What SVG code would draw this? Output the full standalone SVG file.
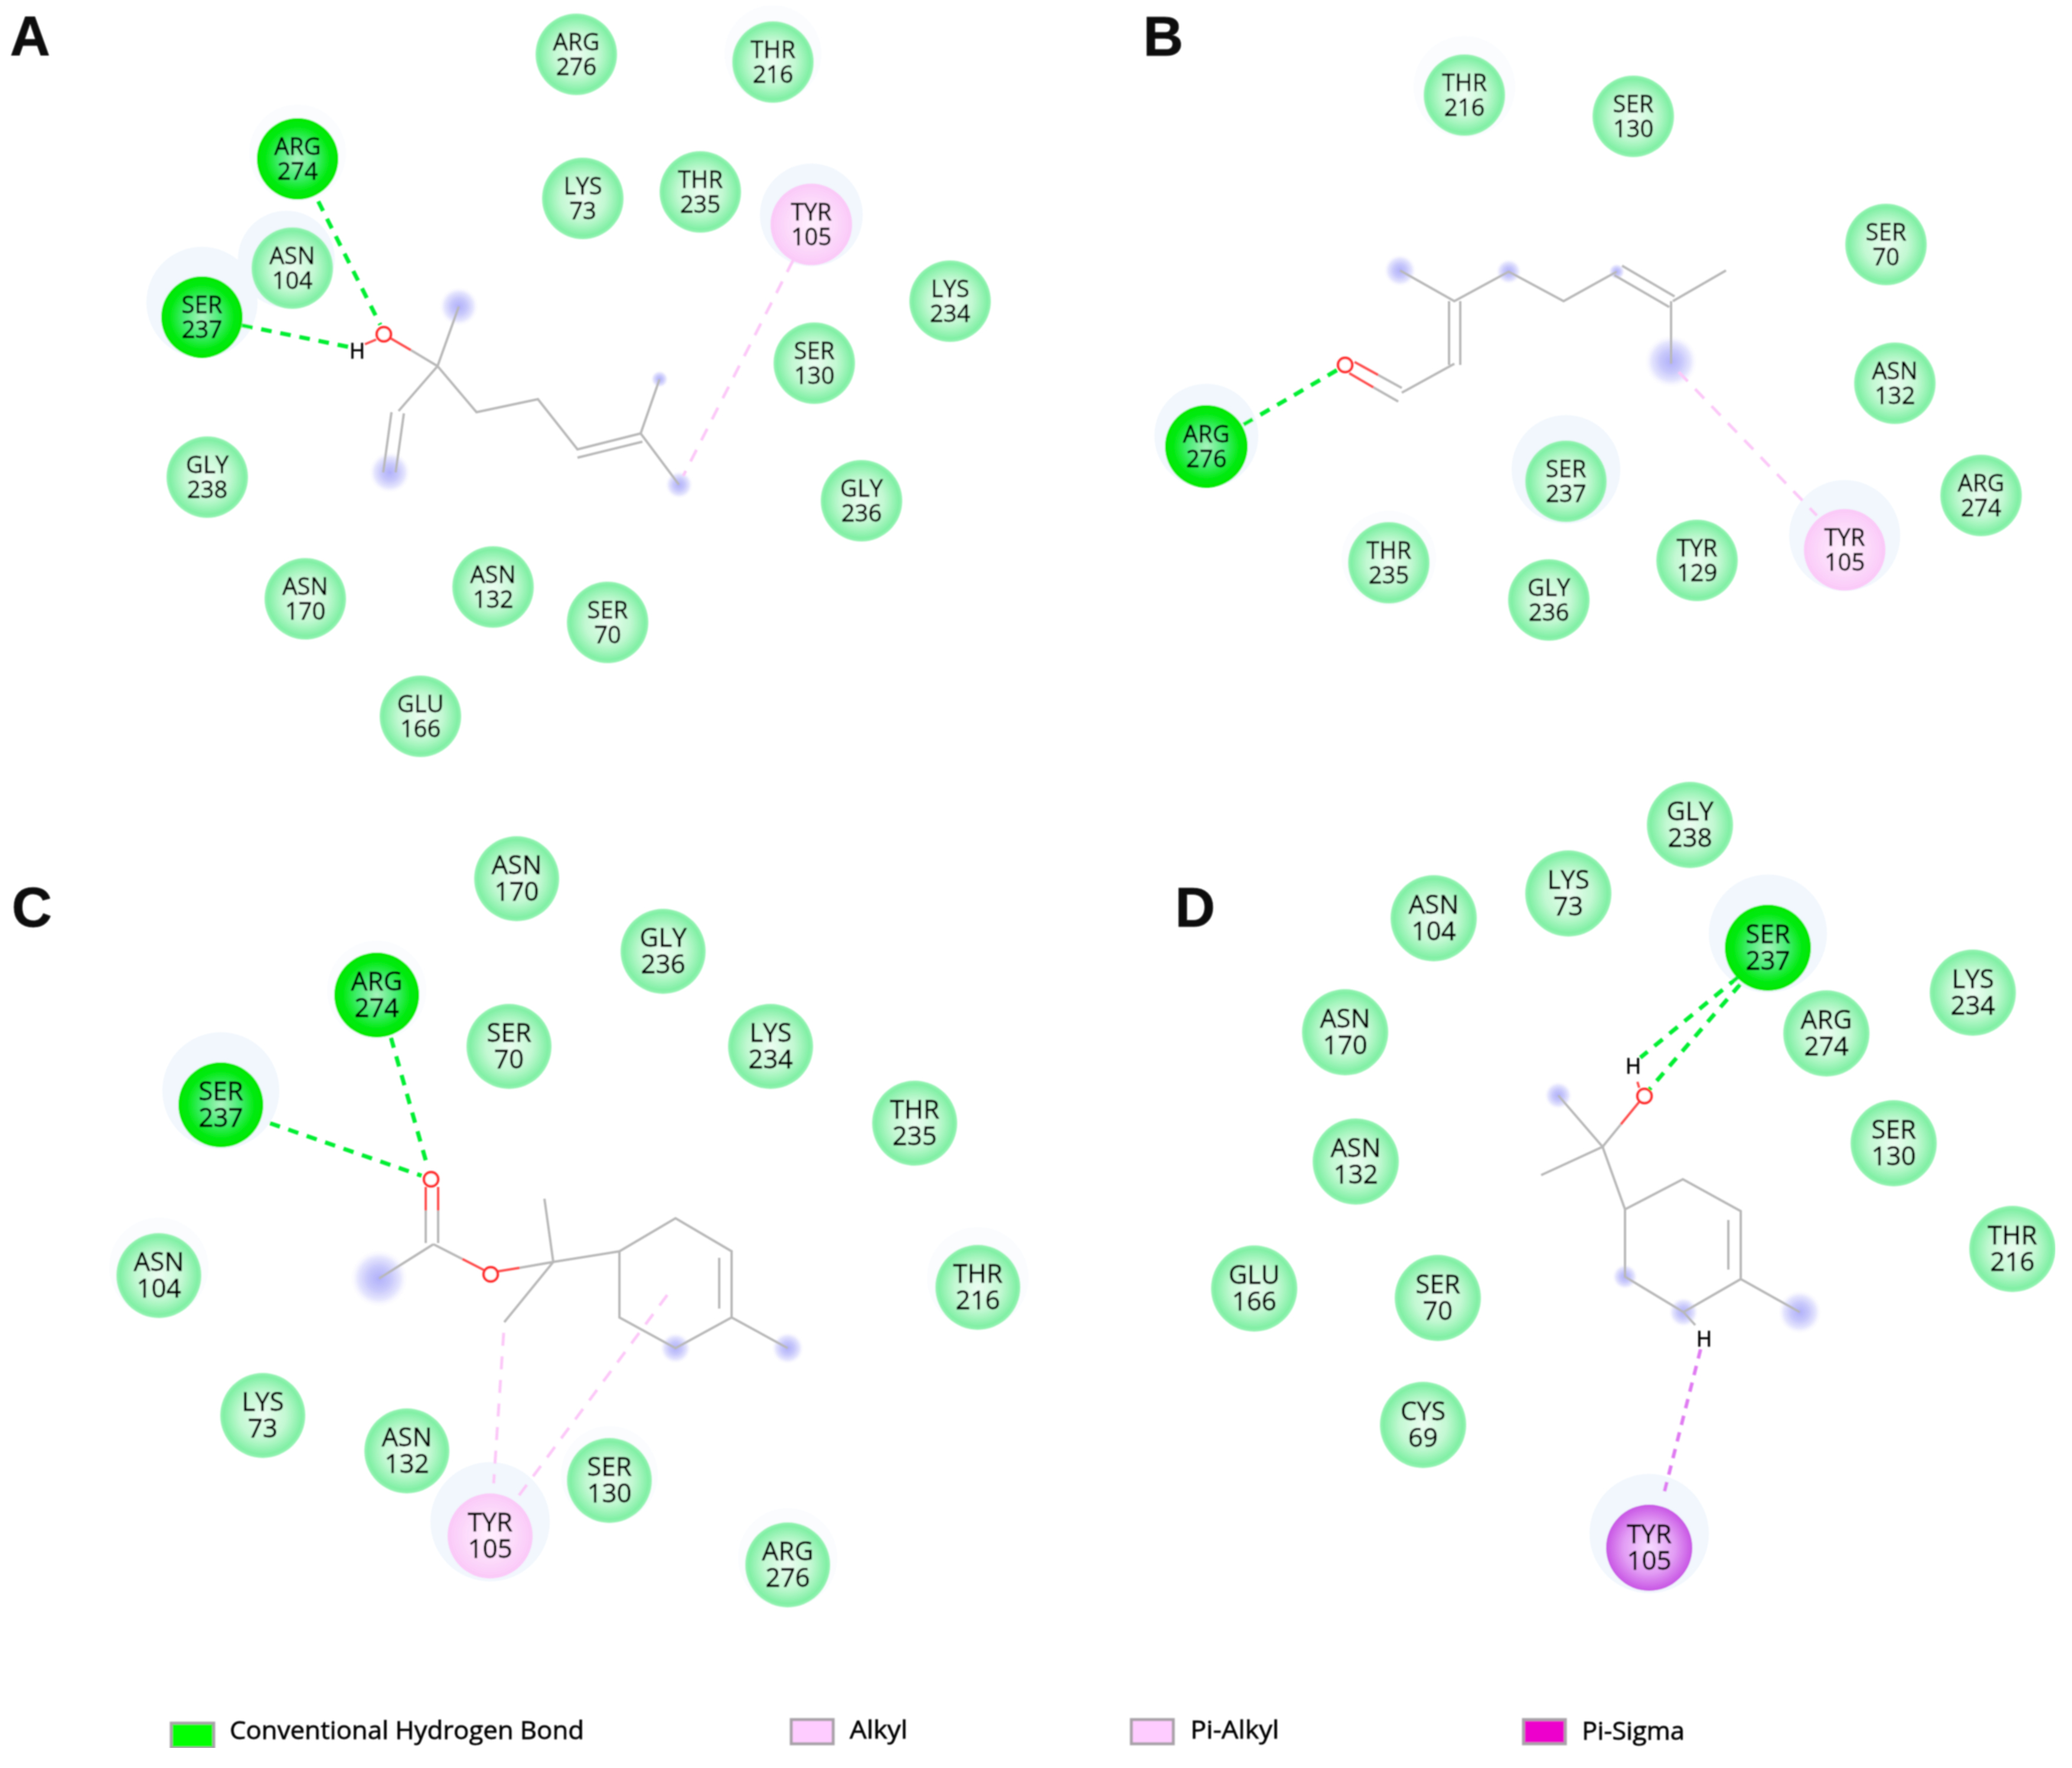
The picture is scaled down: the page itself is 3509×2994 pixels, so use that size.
<svg xmlns="http://www.w3.org/2000/svg" width="3509" height="2994" viewBox="0 0 3509 2994">
<style>
text{font-family:"Open Sans","Liberation Sans",sans-serif;fill:#000;stroke:#000;stroke-width:.8px}
.t{font-size:40px;text-anchor:middle}
.u{font-size:44px;text-anchor:middle}
.p{font-family:"Liberation Sans",Arial,sans-serif;font-size:94px;font-weight:700;fill:#111}
.l{font-size:42px}
.h{fill:#f1f7fd}
.f{fill:#fafcfe}
.g{fill:url(#gG)}
.d{fill:url(#gD)}
.k{fill:url(#gP)}
.v{fill:url(#gV)}
.b{stroke:#b8b8b8;stroke-width:4;fill:none}
.r{stroke:#ff4d4d;stroke-width:4;fill:none}
.o{stroke:#ff3030;stroke-width:4.5;fill:#fff}
.gl{fill:url(#gB)}
.hb{stroke:#00ee33;stroke-width:7;stroke-dasharray:18 15;fill:none}
.al{stroke:#fcc8f8;stroke-width:5;stroke-dasharray:22 18;fill:none}
.ps{stroke:#e07cf2;stroke-width:6;stroke-dasharray:16 13;fill:none}
.s{stroke:#a9a3a9;stroke-width:5}
</style>
<defs>
<filter id="soft" x="0" y="0" width="1" height="1"><feGaussianBlur stdDeviation="1"/></filter>
<radialGradient id="gG"><stop offset="0" stop-color="#ecfdf1"/><stop offset=".55" stop-color="#c2f8d2"/><stop offset=".92" stop-color="#80f0a4"/><stop offset="1" stop-color="#9af3b6"/></radialGradient>
<radialGradient id="gD"><stop offset="0" stop-color="#a8f4bd"/><stop offset=".45" stop-color="#45ec72"/><stop offset=".8" stop-color="#00ea10"/><stop offset="1" stop-color="#00e800"/></radialGradient>
<radialGradient id="gP"><stop offset="0" stop-color="#fff0fe"/><stop offset=".7" stop-color="#fcd6fa"/><stop offset="1" stop-color="#fbc8f8"/></radialGradient>
<radialGradient id="gV"><stop offset="0" stop-color="#f6dcff"/><stop offset=".6" stop-color="#e29cf4"/><stop offset="1" stop-color="#c855e4"/></radialGradient>
<radialGradient id="gB"><stop offset="0" stop-color="#b0b0fa"/><stop offset=".4" stop-color="#c8c8fc"/><stop offset=".72" stop-color="#e6e6fe"/><stop offset="1" stop-color="#ffffff" stop-opacity="0"/></radialGradient>
</defs>
<g filter="url(#soft)">
<text class="p" x="17" y="94">A</text>
<text class="p" x="1936" y="94">B</text>
<text class="p" x="20" y="1569">C</text>
<text class="p" x="1990" y="1569">D</text>

<g id="molecule-a">
<circle class="gl" cx="777" cy="519" r="34"/><circle class="gl" cx="660" cy="800" r="36"/><circle class="gl" cx="1117" cy="642" r="15"/><circle class="gl" cx="1150" cy="821" r="24"/>
<path class="b" d="M777 519L741 620L675 696M741 620L696 593M663 698L649 800M684 700L670 800M741 620L807 698L911 676L978 761L1085 734L1117 642M978 775L1088 748M1085 734L1150 821"/>
<path class="r" d="M696 593L660 572M618 583L637 575"/>
<circle class="o" cx="650" cy="566" r="12"/>
<text x="605" y="607" style="font-size:36px;text-anchor:middle">H</text>
</g>

<g id="molecule-b">
<circle class="gl" cx="2371" cy="458" r="28"/><circle class="gl" cx="2555" cy="460" r="22"/><circle class="gl" cx="2738" cy="460" r="14"/><circle class="gl" cx="2830" cy="612" r="46"/>
<path class="b" d="M2371 458L2463 510L2555 460L2648 510L2738 460M2747 450L2836 502M2734 466L2827 520M2833 510L2923 458M2830 510L2830 616M2454 510L2454 618M2473 510L2473 618M2463 616L2374 665M2368 680L2326 656M2374 657L2334 635"/>
<path class="r" d="M2326 656L2285 632M2334 635L2294 613"/>
<circle class="o" cx="2278" cy="618" r="12"/>
</g>

<g id="molecule-c">
<circle class="gl" cx="642" cy="2165" r="50"/><circle class="gl" cx="1144" cy="2283" r="27"/><circle class="gl" cx="1334" cy="2283" r="28"/>
<path class="b" d="M721 2050L721 2105M742 2050L742 2105M734 2107L642 2165M734 2107L783 2132M880 2147L937 2137L922 2030M937 2137L854 2239M937 2137L1049 2119L1144 2063L1239 2119L1239 2231L1144 2283L1049 2231L1049 2119M1218 2130L1218 2216M1239 2231L1334 2283"/>
<path class="r" d="M721 2010L721 2050M742 2010L742 2050M783 2132L822 2152M843 2153L880 2147"/>
<circle class="o" cx="730" cy="1997" r="12"/>
<circle class="o" cx="831" cy="2158" r="12"/>
</g>

<g id="molecule-d">
<circle class="gl" cx="2639" cy="1855" r="24"/><circle class="gl" cx="2752" cy="2162" r="22"/><circle class="gl" cx="2851" cy="2222" r="26"/><circle class="gl" cx="3048" cy="2222" r="38"/>
<path class="b" d="M2639 1855L2714 1942L2610 1990M2714 1942L2752 2048L2850 1997L2948 2051L2948 2166L2851 2222L2752 2162L2752 2048M2927 2066L2927 2150M2948 2166L3048 2222M2851 2222L2871 2244M2714 1942L2745 1904"/>
<path class="r" d="M2745 1904L2776 1866M2776 1842L2773 1832"/>
<circle class="o" cx="2785" cy="1856" r="12"/>
<text x="2766" y="1818" style="font-size:36px;text-anchor:middle">H</text>
<text x="2886" y="2280" style="font-size:36px;text-anchor:middle">H</text>
</g>

<g id="panel-a-nodes">
<g id="a-arg276" transform="translate(976 92)"><circle class="g" r="69"/><text class="t"><tspan x="0" y="-7">ARG</tspan><tspan x="0" y="35">276</tspan></text></g>
<g id="a-thr216" transform="translate(1309 105)"><circle class="f" cy="-14" r="82"/><circle class="g" r="69"/><text class="t"><tspan x="0" y="-7">THR</tspan><tspan x="0" y="35">216</tspan></text></g>
<g id="a-arg274" transform="translate(504 269)"><circle class="f" cy="-10" r="82"/><circle class="d" r="69"/><text class="t"><tspan x="0" y="-7">ARG</tspan><tspan x="0" y="35">274</tspan></text></g>
<g id="a-lys73" transform="translate(987 336)"><circle class="g" r="69"/><text class="t"><tspan x="0" y="-7">LYS</tspan><tspan x="0" y="35">73</tspan></text></g>
<g id="a-thr235" transform="translate(1186 325)"><circle class="g" r="69"/><text class="t"><tspan x="0" y="-7">THR</tspan><tspan x="0" y="35">235</tspan></text></g>
<g id="a-tyr105" transform="translate(1374 380)"><circle class="h" cy="-16" r="87"/><circle class="k" r="69"/><text class="t"><tspan x="0" y="-7">TYR</tspan><tspan x="0" y="35">105</tspan></text></g>
<g id="a-asn104" transform="translate(495 454)"><circle class="h" cx="-10" cy="-15" r="82"/><circle class="g" r="69"/><text class="t"><tspan x="0" y="-7">ASN</tspan><tspan x="0" y="35">104</tspan></text></g>
<g id="a-lys234" transform="translate(1609 510)"><circle class="g" r="69"/><text class="t"><tspan x="0" y="-7">LYS</tspan><tspan x="0" y="35">234</tspan></text></g>
<g id="a-ser237" transform="translate(342 537)"><circle class="h" cy="-25" r="94"/><circle class="d" r="69"/><text class="t"><tspan x="0" y="-7">SER</tspan><tspan x="0" y="35">237</tspan></text></g>
<g id="a-ser130" transform="translate(1379 615)"><circle class="g" r="69"/><text class="t"><tspan x="0" y="-7">SER</tspan><tspan x="0" y="35">130</tspan></text></g>
<g id="a-gly238" transform="translate(351 808)"><circle class="g" r="69"/><text class="t"><tspan x="0" y="-7">GLY</tspan><tspan x="0" y="35">238</tspan></text></g>
<g id="a-gly236" transform="translate(1459 848)"><circle class="g" r="69"/><text class="t"><tspan x="0" y="-7">GLY</tspan><tspan x="0" y="35">236</tspan></text></g>
<g id="a-asn170" transform="translate(517 1014)"><circle class="g" r="69"/><text class="t"><tspan x="0" y="-7">ASN</tspan><tspan x="0" y="35">170</tspan></text></g>
<g id="a-asn132" transform="translate(835 994)"><circle class="g" r="69"/><text class="t"><tspan x="0" y="-7">ASN</tspan><tspan x="0" y="35">132</tspan></text></g>
<g id="a-ser70" transform="translate(1029 1054)"><circle class="g" r="69"/><text class="t"><tspan x="0" y="-7">SER</tspan><tspan x="0" y="35">70</tspan></text></g>
<g id="a-glu166" transform="translate(712 1213)"><circle class="g" r="69"/><text class="t"><tspan x="0" y="-7">GLU</tspan><tspan x="0" y="35">166</tspan></text></g>
</g>

<g id="panel-b-nodes">
<g id="b-thr216" transform="translate(2480 161)"><circle class="f" cy="-14" r="86"/><circle class="g" r="69"/><text class="t"><tspan x="0" y="-7">THR</tspan><tspan x="0" y="35">216</tspan></text></g>
<g id="b-ser130" transform="translate(2766 197)"><circle class="g" r="69"/><text class="t"><tspan x="0" y="-7">SER</tspan><tspan x="0" y="35">130</tspan></text></g>
<g id="b-ser70" transform="translate(3194 414)"><circle class="g" r="69"/><text class="t"><tspan x="0" y="-7">SER</tspan><tspan x="0" y="35">70</tspan></text></g>
<g id="b-asn132" transform="translate(3209 649)"><circle class="g" r="69"/><text class="t"><tspan x="0" y="-7">ASN</tspan><tspan x="0" y="35">132</tspan></text></g>
<g id="b-arg276" transform="translate(2043 756)"><circle class="h" cy="-18" r="88"/><circle class="d" r="70"/><text class="t"><tspan x="0" y="-7">ARG</tspan><tspan x="0" y="35">276</tspan></text></g>
<g id="b-ser237" transform="translate(2652 815)"><circle class="h" cy="-20" r="92"/><circle class="g" r="69"/><text class="t"><tspan x="0" y="-7">SER</tspan><tspan x="0" y="35">237</tspan></text></g>
<g id="b-arg274" transform="translate(3355 839)"><circle class="g" r="69"/><text class="t"><tspan x="0" y="-7">ARG</tspan><tspan x="0" y="35">274</tspan></text></g>
<g id="b-thr235" transform="translate(2352 953)"><circle class="f" cy="-8" r="80"/><circle class="g" r="69"/><text class="t"><tspan x="0" y="-7">THR</tspan><tspan x="0" y="35">235</tspan></text></g>
<g id="b-gly236" transform="translate(2623 1016)"><circle class="g" r="69"/><text class="t"><tspan x="0" y="-7">GLY</tspan><tspan x="0" y="35">236</tspan></text></g>
<g id="b-tyr129" transform="translate(2874 949)"><circle class="g" r="69"/><text class="t"><tspan x="0" y="-7">TYR</tspan><tspan x="0" y="35">129</tspan></text></g>
<g id="b-tyr105" transform="translate(3124 931)"><circle class="h" cy="-24" r="94"/><circle class="k" r="69"/><text class="t"><tspan x="0" y="-7">TYR</tspan><tspan x="0" y="35">105</tspan></text></g>
</g>

<g id="panel-c-nodes">
<g id="c-asn170" transform="translate(875 1488)"><circle class="g" r="72"/><text class="u"><tspan x="0" y="-8">ASN</tspan><tspan x="0" y="37">170</tspan></text></g>
<g id="c-gly236" transform="translate(1123 1611)"><circle class="g" r="72"/><text class="u"><tspan x="0" y="-8">GLY</tspan><tspan x="0" y="37">236</tspan></text></g>
<g id="c-arg274" transform="translate(638 1685)"><circle class="f" cy="-8" r="84"/><circle class="d" r="72"/><text class="u"><tspan x="0" y="-8">ARG</tspan><tspan x="0" y="37">274</tspan></text></g>
<g id="c-ser70" transform="translate(862 1772)"><circle class="g" r="72"/><text class="u"><tspan x="0" y="-8">SER</tspan><tspan x="0" y="37">70</tspan></text></g>
<g id="c-lys234" transform="translate(1305 1772)"><circle class="g" r="72"/><text class="u"><tspan x="0" y="-8">LYS</tspan><tspan x="0" y="37">234</tspan></text></g>
<g id="c-thr235" transform="translate(1549 1902)"><circle class="g" r="72"/><text class="u"><tspan x="0" y="-8">THR</tspan><tspan x="0" y="37">235</tspan></text></g>
<g id="c-ser237" transform="translate(374 1871)"><circle class="h" cy="-24" r="99"/><circle class="d" r="72"/><text class="u"><tspan x="0" y="-8">SER</tspan><tspan x="0" y="37">237</tspan></text></g>
<g id="c-asn104" transform="translate(269 2160)"><circle class="f" cy="-14" r="84"/><circle class="g" r="72"/><text class="u"><tspan x="0" y="-8">ASN</tspan><tspan x="0" y="37">104</tspan></text></g>
<g id="c-thr216" transform="translate(1656 2180)"><circle class="f" cy="-16" r="86"/><circle class="g" r="72"/><text class="u"><tspan x="0" y="-8">THR</tspan><tspan x="0" y="37">216</tspan></text></g>
<g id="c-lys73" transform="translate(445 2397)"><circle class="g" r="72"/><text class="u"><tspan x="0" y="-8">LYS</tspan><tspan x="0" y="37">73</tspan></text></g>
<g id="c-asn132" transform="translate(689 2457)"><circle class="g" r="72"/><text class="u"><tspan x="0" y="-8">ASN</tspan><tspan x="0" y="37">132</tspan></text></g>
<g id="c-ser130" transform="translate(1032 2507)"><circle class="f" cy="-10" r="82"/><circle class="g" r="72"/><text class="u"><tspan x="0" y="-8">SER</tspan><tspan x="0" y="37">130</tspan></text></g>
<g id="c-tyr105" transform="translate(830 2601)"><circle class="h" cy="-24" r="101"/><circle class="k" r="72"/><text class="u"><tspan x="0" y="-8">TYR</tspan><tspan x="0" y="37">105</tspan></text></g>
<g id="c-arg276" transform="translate(1334 2650)"><circle class="f" cy="-12" r="84"/><circle class="g" r="72"/><text class="u"><tspan x="0" y="-8">ARG</tspan><tspan x="0" y="37">276</tspan></text></g>
</g>

<g id="panel-d-nodes">
<g id="d-gly238" transform="translate(2862 1397)"><circle class="g" r="73"/><text class="u"><tspan x="0" y="-8">GLY</tspan><tspan x="0" y="37">238</tspan></text></g>
<g id="d-lys73" transform="translate(2656 1513)"><circle class="g" r="73"/><text class="u"><tspan x="0" y="-8">LYS</tspan><tspan x="0" y="37">73</tspan></text></g>
<g id="d-asn104" transform="translate(2428 1555)"><circle class="g" r="73"/><text class="u"><tspan x="0" y="-8">ASN</tspan><tspan x="0" y="37">104</tspan></text></g>
<g id="d-ser237" transform="translate(2994 1605)"><circle class="h" cy="-24" r="100"/><circle class="d" r="73"/><text class="u"><tspan x="0" y="-8">SER</tspan><tspan x="0" y="37">237</tspan></text></g>
<g id="d-lys234" transform="translate(3341 1681)"><circle class="g" r="73"/><text class="u"><tspan x="0" y="-8">LYS</tspan><tspan x="0" y="37">234</tspan></text></g>
<g id="d-arg274" transform="translate(3093 1750)"><circle class="g" r="73"/><text class="u"><tspan x="0" y="-8">ARG</tspan><tspan x="0" y="37">274</tspan></text></g>
<g id="d-asn170" transform="translate(2278 1748)"><circle class="g" r="73"/><text class="u"><tspan x="0" y="-8">ASN</tspan><tspan x="0" y="37">170</tspan></text></g>
<g id="d-ser130" transform="translate(3207 1936)"><circle class="g" r="73"/><text class="u"><tspan x="0" y="-8">SER</tspan><tspan x="0" y="37">130</tspan></text></g>
<g id="d-asn132" transform="translate(2296 1967)"><circle class="g" r="73"/><text class="u"><tspan x="0" y="-8">ASN</tspan><tspan x="0" y="37">132</tspan></text></g>
<g id="d-thr216" transform="translate(3408 2115)"><circle class="g" r="73"/><text class="u"><tspan x="0" y="-8">THR</tspan><tspan x="0" y="37">216</tspan></text></g>
<g id="d-glu166" transform="translate(2124 2182)"><circle class="g" r="73"/><text class="u"><tspan x="0" y="-8">GLU</tspan><tspan x="0" y="37">166</tspan></text></g>
<g id="d-ser70" transform="translate(2435 2198)"><circle class="g" r="73"/><text class="u"><tspan x="0" y="-8">SER</tspan><tspan x="0" y="37">70</tspan></text></g>
<g id="d-cys69" transform="translate(2410 2413)"><circle class="g" r="73"/><text class="u"><tspan x="0" y="-8">CYS</tspan><tspan x="0" y="37">69</tspan></text></g>
<g id="d-tyr105" transform="translate(2793 2621)"><circle class="h" cy="-24" r="101"/><circle class="v" r="73"/><text class="u"><tspan x="0" y="-8">TYR</tspan><tspan x="0" y="37">105</tspan></text></g>
</g>

<g id="connectors">
<line class="hb" x1="539" y1="341" x2="644" y2="550"/>
<line class="hb" x1="410" y1="551" x2="593" y2="588"/>
<line class="al" x1="1343" y1="441" x2="1157" y2="806"/>
<line class="hb" x1="2106" y1="719" x2="2269" y2="624"/>
<line class="al" x1="2843" y1="630" x2="3077" y2="873"/>
<line class="hb" x1="662" y1="1757" x2="725" y2="1979"/>
<line class="hb" x1="457" y1="1902" x2="714" y2="1991"/>
<line class="al" x1="853" y1="2257" x2="836" y2="2512"/>
<line class="al" x1="1130" y1="2193" x2="877" y2="2535"/>
<line class="hb" x1="2943" y1="1655" x2="2778" y2="1791"/>
<line class="hb" x1="2947" y1="1667" x2="2793" y2="1845"/>
<line class="ps" x1="2880" y1="2285" x2="2816" y2="2537"/>
</g>

<g id="legend">
<g id="legend-conventional"><rect class="s" x="290" y="2918" width="72" height="42" fill="#00ff00"/><text class="l" x="389" y="2945" textLength="600" lengthAdjust="spacingAndGlyphs">Conventional Hydrogen Bond</text></g>
<g id="legend-alkyl"><rect class="s" x="1340" y="2912" width="71" height="41" fill="#ffccff"/><text class="l" x="1439" y="2944" textLength="98" lengthAdjust="spacingAndGlyphs">Alkyl</text></g>
<g id="legend-pi-alkyl"><rect class="s" x="1916" y="2912" width="71" height="41" fill="#ffccff"/><text class="l" x="2016" y="2944" textLength="150" lengthAdjust="spacingAndGlyphs">Pi-Alkyl</text></g>
<g id="legend-pi-sigma"><rect class="s" x="2580" y="2912" width="71" height="41" fill="#ee00cc"/><text class="l" x="2679" y="2946" textLength="174" lengthAdjust="spacingAndGlyphs">Pi-Sigma</text></g>
</g>
</g>
</svg>
